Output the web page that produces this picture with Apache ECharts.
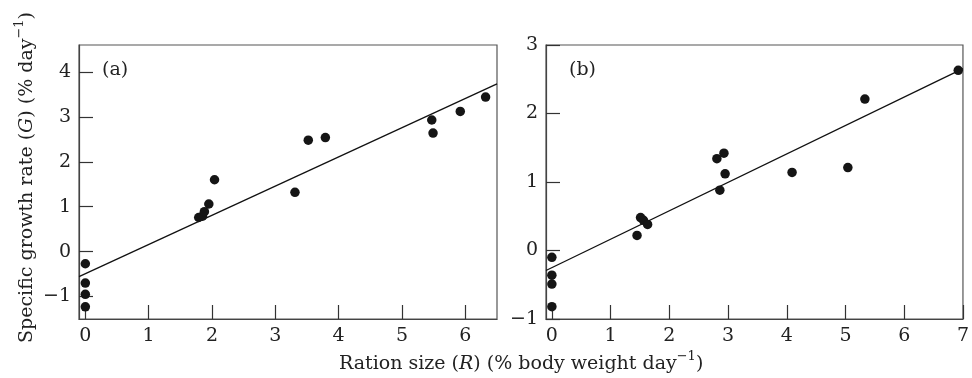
<!DOCTYPE html>
<html>
<head>
<meta charset="utf-8">
<script src="https://cdn.jsdelivr.net/npm/echarts@6/dist/echarts.min.js"></script>
<style>
  html, body { margin: 0; padding: 0; background: #fff; }
  #main { width: 972px; height: 378px; }
</style>
</head>
<body>
<div id="main"></div>
<script>
var chartDom = document.getElementById('main');
var myChart = echarts.init(chartDom);
var option;

// panel (a): ration size vs growth rate
var rationA = [0, 0, 0, 0, 1.79, 1.85, 1.88, 1.95, 2.04, 3.31, 3.52, 3.79, 5.47, 5.49, 5.92, 6.32];
var growthA = [-0.27, -0.70, -0.95, -1.23, 0.76, 0.79, 0.89, 1.06, 1.60, 1.32, 2.48, 2.54, 2.93, 2.64, 3.12, 3.44];
// panel (b)
var rationB = [0, 0, 0, 0, 1.45, 1.51, 1.56, 1.63, 2.81, 2.93, 2.95, 2.86, 4.09, 5.04, 5.33, 6.92];
var growthB = [-0.10, -0.36, -0.49, -0.82, 0.22, 0.48, 0.44, 0.38, 1.34, 1.42, 1.12, 0.88, 1.14, 1.21, 2.21, 2.63];
// fitted lines: G = intercept + slope * R
var fitA = { intercept: -0.49, slope: 0.65 };
var fitB = { intercept: -0.25, slope: 0.415 };
var xRangeA = [-0.1, 6.5];
var xRangeB = [-0.1, 7];
var yRangeA = [-1.5, 4.6];
var yRangeB = [-1, 3];

var FONT = 'DejaVu Serif';

function pairs(xs, ys) {
  return xs.map(function (x, i) { return [x, ys[i]]; });
}
function fitLine(fit, range) {
  return range.map(function (x) { return [x, fit.intercept + fit.slope * x]; });
}
function minus(v) {
  return String(v).replace('-', '\u2212');
}

function xAxis(idx, range) {
  return {
    type: 'value', gridIndex: idx, min: range[0], max: range[1],
    axisLine: { onZero: false, lineStyle: { color: '#444', width: 1.2 } },
    axisTick: { inside: true, length: 14, lineStyle: { color: '#333', width: 1.2 } },
    axisLabel: { color: '#222', fontFamily: FONT, fontSize: 19, margin: 8,
      showMinLabel: false, showMaxLabel: idx === 1, formatter: minus },
    splitLine: { show: false }
  };
}
function yAxis(idx, range) {
  return {
    type: 'value', gridIndex: idx, min: range[0], max: range[1],
    axisLine: { onZero: false, lineStyle: { color: '#444', width: 1.2 } },
    axisTick: { inside: true, length: 14, lineStyle: { color: '#333', width: 1.2 } },
    axisLabel: { color: '#222', fontFamily: FONT, fontSize: 19, margin: 8,
      showMinLabel: idx === 1, showMaxLabel: idx === 1, formatter: minus },
    splitLine: { show: false }
  };
}

var titleRich = {
  t: { fontFamily: FONT, fontSize: 19, fill: '#222', lineHeight: 24, verticalAlign: 'bottom' },
  i: { fontFamily: FONT, fontSize: 19, fontStyle: 'italic', fill: '#222', lineHeight: 24, verticalAlign: 'bottom' },
  s: { fontFamily: FONT, fontSize: 13, fill: '#222', lineHeight: 24, verticalAlign: 'top' }
};

option = {
  animation: false,
  grid: [
    { left: 79, top: 45, width: 418, height: 274, show: true, borderColor: '#555', borderWidth: 1.2 },
    { left: 546, top: 45, width: 418, height: 274, show: true, borderColor: '#555', borderWidth: 1.2 }
  ],
  xAxis: [xAxis(0, xRangeA), xAxis(1, xRangeB)],
  yAxis: [yAxis(0, yRangeA), yAxis(1, yRangeB)],
  graphic: [
    { type: 'text', left: 102, top: 61, style: { text: '(a)', font: '19px "' + FONT + '"', fill: '#222' } },
    { type: 'text', left: 569, top: 61, style: { text: '(b)', font: '19px "' + FONT + '"', fill: '#222' } },
    {
      type: 'text', x: 339, y: 350,
      style: { text: '{t|Ration size (}{i|R}{t|) (% body weight day}{s|\u22121}{t|)}', rich: titleRich }
    },
    {
      type: 'text', x: 13, y: 343, rotation: Math.PI / 2,
      style: { text: '{t|Specific growth rate (}{i|G}{t|) (% day}{s|\u22121}{t|)}', rich: titleRich }
    }
  ],
  series: [
    {
      type: 'line', xAxisIndex: 0, yAxisIndex: 0, data: fitLine(fitA, xRangeA),
      showSymbol: false, lineStyle: { color: '#111', width: 1.3 }, z: 1
    },
    {
      type: 'scatter', xAxisIndex: 0, yAxisIndex: 0, data: pairs(rationA, growthA),
      symbolSize: 9.5, itemStyle: { color: '#151515', opacity: 1 }, z: 2
    },
    {
      type: 'line', xAxisIndex: 1, yAxisIndex: 1, data: fitLine(fitB, xRangeB),
      showSymbol: false, lineStyle: { color: '#111', width: 1.3 }, z: 1
    },
    {
      type: 'scatter', xAxisIndex: 1, yAxisIndex: 1, data: pairs(rationB, growthB),
      symbolSize: 9.5, itemStyle: { color: '#151515', opacity: 1 }, z: 2
    }
  ]
};

option && myChart.setOption(option);
</script>
</body>
</html>
